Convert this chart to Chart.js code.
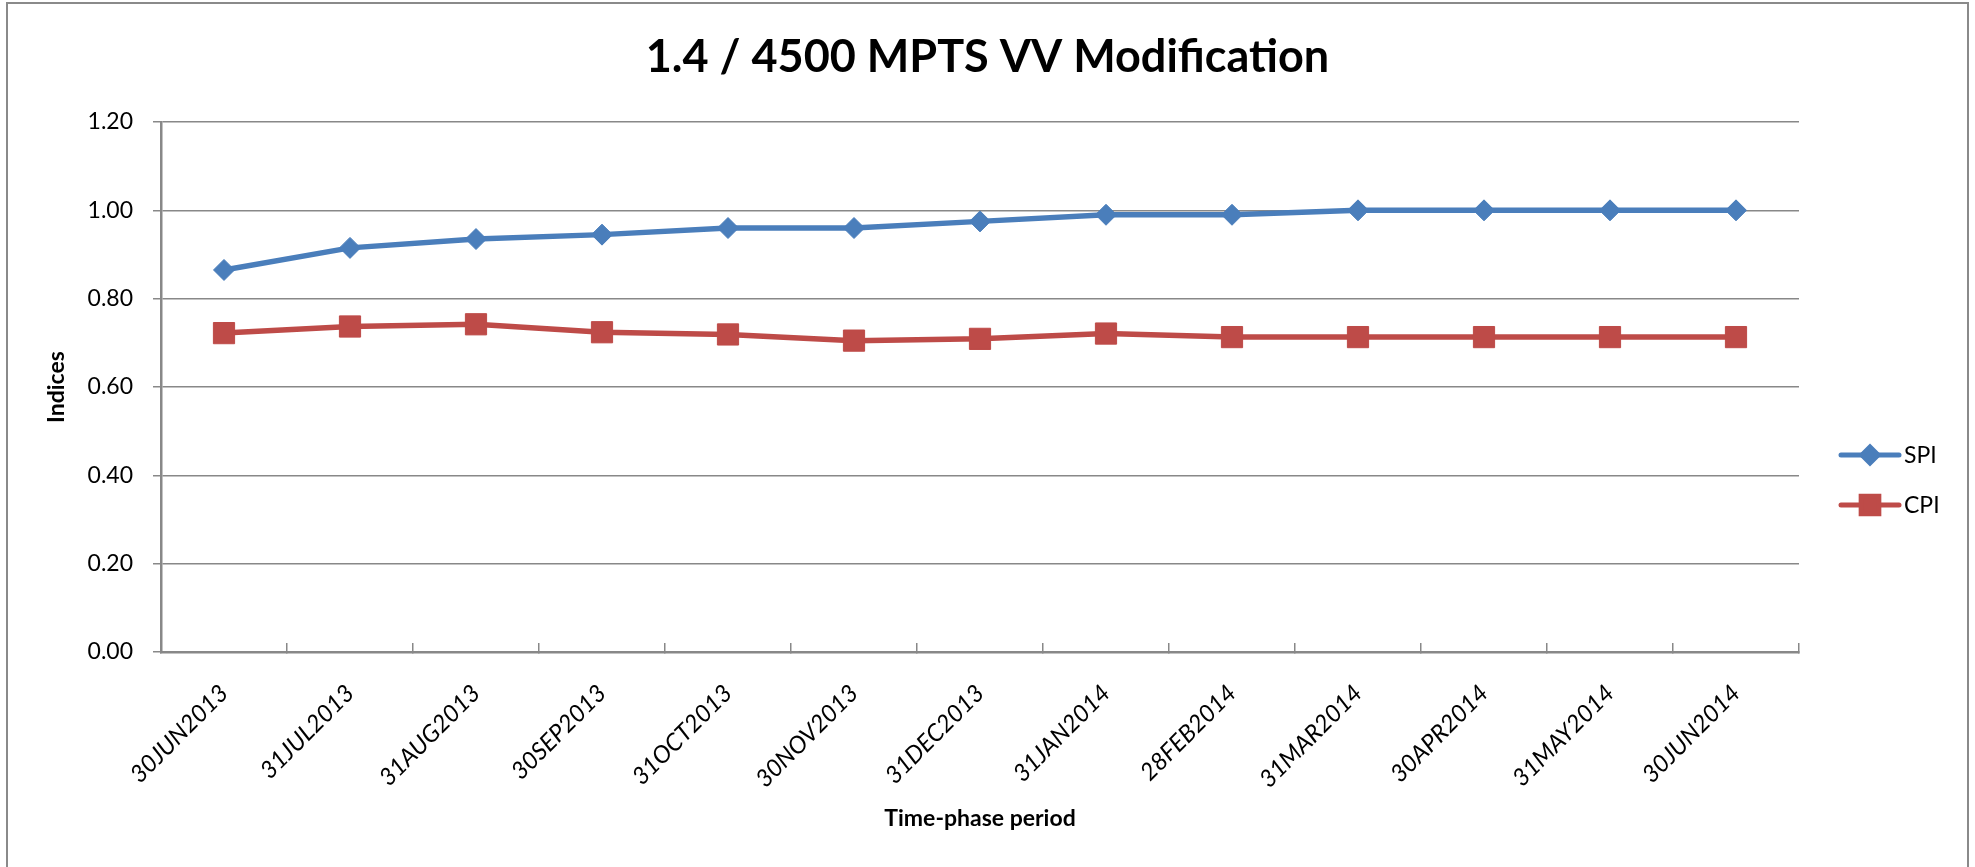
<!DOCTYPE html>
<html>
<head>
<meta charset="utf-8">
<title>1.4 / 4500 MPTS VV Modification</title>
<script src="https://cdn.jsdelivr.net/npm/chart.js@4/dist/chart.umd.min.js"></script>
<style>
  html, body { margin: 0; padding: 0; background: #fff; overflow: hidden; }
  #wrap { position: relative; width: 1975px; height: 867px; }
  #frame {
    position: absolute; left: 6px; top: 2px; width: 1959px; height: 900px;
    border: 2px solid #8a8a8a; border-bottom: none; pointer-events: none;
  }
  canvas { position: absolute; left: 0; top: 0; }
</style>
</head>
<body>
<div id="wrap">
  <canvas id="chart" width="1975" height="867"></canvas>
  <div id="frame"></div>
</div>
<script>
// ── data ─────────────────────────────────────────────────────────────────
const chartTitle = '1.4 / 4500 MPTS VV Modification';
const periods = [
  '30JUN2013', '31JUL2013', '31AUG2013', '30SEP2013', '31OCT2013', '30NOV2013',
  '31DEC2013', '31JAN2014', '28FEB2014', '31MAR2014', '30APR2014', '31MAY2014',
  '30JUN2014'
];
const spi = [0.865, 0.915, 0.935, 0.945, 0.96, 0.96, 0.975, 0.99, 0.99, 1.00, 1.00, 1.00, 1.00];
const cpi = [0.722, 0.737, 0.742, 0.724, 0.719, 0.705, 0.709, 0.721, 0.713, 0.713, 0.713, 0.713, 0.713];
const yTicks = [0, 0.2, 0.4, 0.6, 0.8, 1.0, 1.2];

const BLUE = '#4a7ebb';
const RED = '#be4b48';
const GRID = '#888888';
const FONT = "Lato, 'Open Sans', sans-serif";

// title centred on the whole canvas (the built-in one centres inside the padding)
const centredTitle = {
  id: 'centredTitle',
  afterDraw(chart) {
    const { ctx, width } = chart;
    ctx.save();
    ctx.font = 'bold 45px ' + FONT;
    ctx.fillStyle = '#000';
    ctx.textAlign = 'center';
    ctx.textBaseline = 'middle';
    ctx.fillText(chartTitle, width / 2, 57);
    ctx.restore();
  }
};

// legend drawn as line + marker + label, like the spreadsheet legend
const lineLegend = {
  id: 'lineLegend',
  afterDraw(chart) {
    const { ctx, chartArea } = chart;
    const x0 = chartArea.right + 42, x1 = x0 + 58;
    const yMid = (chartArea.top + chartArea.bottom) / 2 + 93;
    ctx.save();
    ctx.font = '23px ' + FONT;
    ctx.textBaseline = 'middle';
    ctx.textAlign = 'left';
    chart.data.datasets.forEach((ds, i) => {
      const y = yMid + (i - 0.5) * 50;
      ctx.strokeStyle = ds.borderColor;
      ctx.lineWidth = 5;
      ctx.lineCap = 'round';
      ctx.beginPath();
      ctx.moveTo(x0, y);
      ctx.lineTo(x1, y);
      ctx.stroke();
      ctx.fillStyle = ds.pointBackgroundColor;
      ctx.strokeStyle = ds.pointBorderColor;
      Chart.helpers.drawPoint(ctx, {
        pointStyle: ds.pointStyle, radius: ds.legendRadius, borderWidth: 1, rotation: 0
      }, (x0 + x1) / 2, y);
      ctx.fillStyle = '#000';
      ctx.fillText(ds.label, x1 + 5, y + 1);
    });
    ctx.restore();
  }
};

new Chart(document.getElementById('chart'), {
  type: 'line',
  data: {
    labels: periods,
    datasets: [
      {
        label: 'SPI', data: spi,
        borderColor: BLUE, borderWidth: 5.5,
        pointStyle: 'rectRot', pointRadius: 10.5, legendRadius: 8,
        pointBackgroundColor: BLUE, pointBorderColor: BLUE, pointBorderWidth: 1,
        tension: 0
      },
      {
        label: 'CPI', data: cpi,
        borderColor: RED, borderWidth: 5.5,
        pointStyle: 'rect', pointRadius: 15, legendRadius: 12.5,
        pointBackgroundColor: RED, pointBorderColor: RED, pointBorderWidth: 1,
        tension: 0
      }
    ]
  },
  options: {
    responsive: false,
    devicePixelRatio: 1,
    animation: false,
    events: [],
    layout: { padding: { left: 0, right: 176, top: 122, bottom: 0 } },
    plugins: {
      legend: { display: false },
      tooltip: { enabled: false },
      title: { display: false }
    },
    scales: {
      x: {
        offset: true,
        grid: {
          offset: true, drawOnChartArea: false, drawTicks: true,
          tickLength: -9, color: GRID, lineWidth: 1.5
        },
        border: { display: true, color: GRID, width: 2.5 },
        ticks: {
          autoSkip: false, minRotation: 45, maxRotation: 45,
          padding: 36, color: '#000',
          font: { family: FONT, size: 24, style: 'italic' }
        },
        title: {
          display: true, text: 'Time-phase period', color: '#000',
          font: { family: FONT, size: 23, weight: 'bold', lineHeight: 1.2 },
          padding: { top: 0, bottom: 35 }
        },
        afterFit(scale) { scale.height = 215; }
      },
      y: {
        min: 0, max: 1.2,
        afterBuildTicks(scale) { scale.ticks = yTicks.map(v => ({ value: v })); },
        grid: { color: GRID, lineWidth: 1.5, tickLength: 8 },
        border: { display: true, color: GRID, width: 2.5 },
        ticks: {
          padding: 20, color: '#000',
          font: { family: FONT, size: 23 },
          callback: v => Number(v).toFixed(2)
        },
        title: {
          display: true, text: 'Indices', color: '#000',
          font: { family: FONT, size: 23, weight: 'bold', lineHeight: 1.2 },
          padding: { top: 43, bottom: 0 }
        },
        afterFit(scale) { scale.width = 161; }
      }
    }
  },
  plugins: [centredTitle, lineLegend]
});
</script>
</body>
</html>
